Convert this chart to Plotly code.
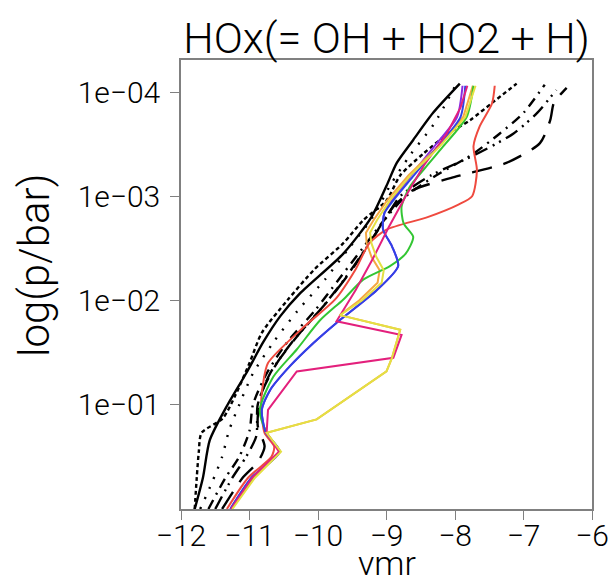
import plotly.graph_objects as go

# ---- data: log10(p/bar) levels and log10(vmr) values per profile ----
LP_B1 = [0, -0.3, -0.66, -1.0, -1.3, -1.6, -1.85, -2.07, -2.45, -2.8, -3.1, -3.32, -3.54, -3.80, -4.08]
X_B1 = [-11.80, -11.68, -11.58, -11.32, -11.05, -10.80, -10.55, -10.26, -9.63, -9.22, -9.0, -8.85, -8.61, -8.32, -7.93]

LP_B2 = [0, -0.3, -0.55, -0.73, -0.87, -1.1, -1.4, -1.69, -2.0, -2.3, -2.55, -2.77, -2.96, -3.2, -3.41, -3.6, -3.73, -3.9, -4.08]
X_B2 = [-11.80, -11.77, -11.74, -11.70, -11.39, -11.2, -11.0, -10.82, -10.45, -10.05, -9.63, -9.34, -9.0, -8.8, -8.46, -8.1, -7.78, -7.45, -7.10]

LP_B3 = [0, -0.25, -0.5, -0.75, -1.0, -1.3, -1.6, -1.9, -2.2, -2.5, -2.8, -3.1, -3.4, -3.7, -4.08]
X_B3 = [-11.72, -11.55, -11.4, -11.3, -11.15, -10.95, -10.65, -10.3, -9.9, -9.55, -9.2, -8.95, -8.65, -8.3, -7.98]

LP_B4 = [0, -0.3, -0.5, -0.75, -1.0, -1.3, -1.6, -1.9, -2.2, -2.5, -2.8, -3.0, -3.19, -3.4, -3.6, -3.8, -4.07]
X_B4 = [-11.6, -11.35, -11.15, -11.0, -10.95, -10.75, -10.45, -10.05, -9.7, -9.35, -9.0, -8.72, -8.3, -7.75, -7.35, -7.0, -6.69]

LP_B5 = [0, -0.3, -0.5, -0.7, -1.0, -1.3, -1.6, -1.9, -2.2, -2.5, -2.8, -3.0, -3.2, -3.4, -3.6, -3.8, -4.02]
X_B5 = [-11.5, -11.25, -11.05, -10.9, -10.88, -10.7, -10.38, -9.98, -9.62, -9.3, -9.0, -8.8, -8.35, -7.7, -7.15, -6.8, -6.52]

LP_B6 = [0, -0.3, -0.45, -0.6, -0.8, -1.1, -1.4, -1.7, -2.0, -2.3, -2.6, -2.9, -3.06, -3.19, -3.32, -3.51, -3.73, -3.89, -3.97, -4.04]
X_B6 = [-11.4, -11.1, -10.88, -10.78, -10.88, -10.83, -10.6, -10.25, -9.85, -9.5, -9.2, -8.9, -8.61, -7.98, -7.25, -6.76, -6.61, -6.56, -6.47, -6.37]

LP_RED = [0, -0.3, -0.5, -0.6, -0.73, -1.0, -1.21, -1.40, -1.75, -2.01, -2.3, -2.55, -2.68, -2.8, -2.92, -3.0, -3.25, -3.48, -3.67, -3.89, -4.06]
X_RED = [-11.33, -11.02, -10.68, -10.64, -10.78, -10.83, -10.80, -10.73, -10.2, -9.75, -9.45, -9.25, -9.0, -8.4, -7.95, -7.75, -7.68, -7.73, -7.64, -7.46, -7.42]

LP_GREEN = [0, -0.3, -0.55, -0.73, -0.95, -1.27, -1.53, -1.81, -2.01, -2.20, -2.33, -2.45, -2.61, -2.74, -2.9, -3.09, -3.3, -3.48, -3.76, -4.06]
X_GREEN = [-11.27, -10.95, -10.57, -10.75, -10.85, -10.65, -10.31, -9.97, -9.63, -9.34, -8.95, -8.72, -8.61, -8.75, -8.78, -8.66, -8.4, -8.17, -7.83, -7.73]

LP_BLUE = [0, -0.3, -0.55, -0.73, -0.95, -1.14, -1.37, -1.59, -1.78, -2.10, -2.33, -2.52, -2.68, -2.84, -2.96, -3.2, -3.48, -3.76, -4.06]
X_BLUE = [-11.28, -10.97, -10.56, -10.76, -10.82, -10.70, -10.41, -10.07, -9.74, -9.14, -8.83, -8.92, -9.05, -9.03, -8.90, -8.6, -8.25, -7.92, -7.85]

LP_PURPLE = [0, -0.3, -0.55, -0.73, -0.95, -1.14, -1.37, -1.59, -1.78, -2.10, -2.33, -2.52, -2.68, -2.84, -2.96, -3.2, -3.48, -3.76, -4.06]
X_PURPLE = [-11.28, -10.97, -10.56, -10.76, -10.82, -10.70, -10.41, -10.07, -9.74, -9.14, -8.83, -8.92, -9.05, -9.03, -8.92, -8.64, -8.30, -7.97, -7.89]

LP_MAGENTA = [0, -0.3, -0.55, -0.73, -0.95, -1.08, -1.32, -1.45, -1.67, -1.80, -2.1, -2.4, -2.7, -3.0, -3.3, -3.6, -3.85, -4.06]
X_MAGENTA = [-11.27, -10.96, -10.57, -10.75, -10.73, -10.58, -10.31, -8.90, -8.78, -9.73, -9.45, -9.2, -8.97, -8.72, -8.45, -8.12, -7.92, -7.82]

LP_YELLOW = [0, -0.3, -0.55, -0.73, -0.86, -1.32, -1.45, -1.72, -1.86, -2.0, -2.17, -2.29, -2.42, -2.55, -2.65, -2.77, -2.96, -3.2, -3.48, -3.76, -4.06]
X_YELLOW = [-11.25, -10.92, -10.54, -10.75, -10.02, -9.0, -8.92, -8.80, -9.68, -9.36, -9.07, -9.04, -9.15, -9.22, -9.24, -9.14, -8.95, -8.65, -8.22, -7.85, -7.70]

LP_ORANGE = [0, -0.3, -0.55, -0.73, -0.86, -1.32, -1.45, -1.72, -1.86, -2.0, -2.17, -2.29, -2.42, -2.55, -2.65, -2.77, -2.96, -3.2, -3.48, -3.76, -4.06]
X_ORANGE = [-11.26, -10.93, -10.55, -10.75, -10.02, -9.0, -8.92, -8.80, -9.68, -9.40, -9.13, -9.10, -9.22, -9.29, -9.30, -9.19, -8.99, -8.68, -8.24, -7.88, -7.74]

X_TICKS = [-12, -11, -10, -9, -8, -7, -6]
X_TICK_TEXT = ["\u221212", "\u221211", "\u221210", "\u22129", "\u22128", "\u22127", "\u22126"]
Y_TICKS = [-4, -3, -2, -1]
Y_TICK_TEXT = ["1e\u221204", "1e\u221203", "1e\u221202", "1e\u221201"]

FONT = "Roboto, Liberation Sans, Arial, sans-serif"

black_series = [
    (X_B1, LP_B1, "solid"),
    (X_B2, LP_B2, "4px,3px"),
    (X_B3, LP_B3, "2px,9px"),
    (X_B4, LP_B4, "10px,6px,2px,6px"),
    (X_B5, LP_B5, "14px,6px,2px,5px,2px,6px"),
    (X_B6, LP_B6, "20px,12px"),
]

color_series = [
    (X_PURPLE, LP_PURPLE, "#8a2be2", "spline"),
    (X_ORANGE, LP_ORANGE, "#f5a742", "linear"),
    (X_RED, LP_RED, "#ef4a3f", "spline"),
    (X_GREEN, LP_GREEN, "#33c633", "spline"),
    (X_BLUE, LP_BLUE, "#2f43e6", "spline"),
    (X_MAGENTA, LP_MAGENTA, "#e3207c", "linear"),
    (X_YELLOW, LP_YELLOW, "#e4e043", "linear"),
]

fig = go.Figure()
for xs, ys, dash in black_series:
    fig.add_trace(go.Scatter(x=xs, y=ys, mode="lines",
                             line=dict(color="black", width=2.4, dash=dash, shape="spline", smoothing=0.7),
                             hoverinfo="skip"))
for xs, ys, col, shp in color_series:
    ln = dict(color=col, width=2, shape=shp)
    if shp == "spline":
        ln["smoothing"] = 0.7
    fig.add_trace(go.Scatter(x=xs, y=ys, mode="lines", line=ln, hoverinfo="skip"))

tick_font = dict(family=FONT, size=30, color="black", weight=300)
axis_common = dict(
    showgrid=False, zeroline=False, showline=True, mirror=True,
    linecolor="#808080", linewidth=1.5,
    ticks="outside", ticklen=9, tickwidth=1.2, tickcolor="#808080",
    tickfont=tick_font, automargin=False,
)

# page body has an 8px default margin, so the figure is offset by 8px
W, H = 608, 575
fig.update_layout(
    width=W, height=H,
    margin=dict(l=173, r=24, t=52, b=74),
    paper_bgcolor="white", plot_bgcolor="white",
    showlegend=False,
    title=dict(text="HOx(= OH + HO2 + H)", x=0.5, xref="paper", xanchor="center",
               y=1 - 30 / H, yref="container", yanchor="middle",
               font=dict(family=FONT, size=43, color="black", weight=300)),
    xaxis=dict(range=[-12, -6], tickvals=X_TICKS, ticktext=X_TICK_TEXT,
               ticklabelstandoff=-10, **axis_common),
    yaxis=dict(range=[0, -4.307], tickvals=Y_TICKS, ticktext=Y_TICK_TEXT,
               ticklabelstandoff=4, **axis_common),
    annotations=[
        dict(text="vmr", x=0.5, xref="paper", y=(509 - 563) / 449, yref="paper",
             xanchor="center", yanchor="middle", showarrow=False,
             font=dict(family=FONT, size=34, color="black", weight=300)),
        dict(text="log(p/bar)", x=(34 - 181) / 411, xref="paper", y=(509 - 266) / 449, yref="paper",
             xanchor="center", yanchor="middle", showarrow=False, textangle=-90,
             font=dict(family=FONT, size=42, color="black", weight=300)),
    ],
)

fig.write_html("out.html")
